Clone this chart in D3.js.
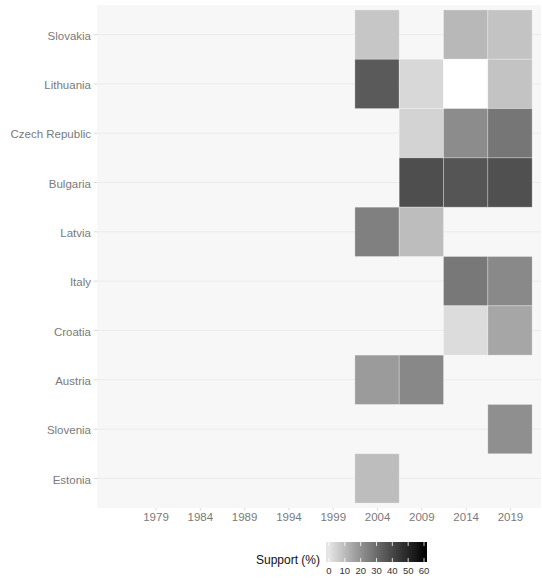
<!DOCTYPE html>
<html>
<head>
<meta charset="utf-8">
<script src="https://cdn.jsdelivr.net/npm/d3@7"></script>
<style>
  body { margin: 0; background: #fff; }
  svg { display: block; font-family: "Liberation Sans", Arial, sans-serif; }
</style>
</head>
<body>
<div id="chart"></div>
<script>
// Support (%) by country and election year, grey heatmap

// Countries top to bottom
var countries = ["Slovakia", "Lithuania", "Czech Republic", "Bulgaria", "Latvia",
                 "Italy", "Croatia", "Austria", "Slovenia", "Estonia"];

// Tick years on the x axis
var years = [1979, 1984, 1989, 1994, 1999, 2004, 2009, 2014, 2019];

// Values, one row per country (null = blank cell)
var slovakia      = [{year: 2004, value: 7.3}, {year: 2014, value: 10.7}, {year: 2019, value: 7.9}];
var lithuania     = [{year: 2004, value: 34.7}, {year: 2009, value: 3.1}, {year: 2014, value: null}, {year: 2019, value: 7.9}];
var czechRepublic = [{year: 2009, value: 4.3}, {year: 2014, value: 21.6}, {year: 2019, value: 27.3}];
var bulgaria      = [{year: 2009, value: 38.0}, {year: 2014, value: 36.1}, {year: 2019, value: 37.6}];
var latvia        = [{year: 2004, value: 24.7}, {year: 2009, value: 9.5}];
var italy         = [{year: 2014, value: 26.8}, {year: 2019, value: 22.4}];
var croatia       = [{year: 2014, value: 2.1}, {year: 2019, value: 15.1}];
var austria       = [{year: 2004, value: 17.9}, {year: 2009, value: 22.6}];
var slovenia      = [{year: 2019, value: 20.8}];
var estonia       = [{year: 2004, value: 9.5}];

var rows = [slovakia, lithuania, czechRepublic, bulgaria, latvia,
            italy, croatia, austria, slovenia, estonia];

var legendTicks = [0, 10, 20, 30, 40, 50, 60];

// build the cell table
var cells = [];
rows.forEach(function (r, i) {
    r.forEach(function (d) {
        cells.push({country: countries[i], year: d.year, value: d.value});
    });
});

var W = 542, H = 580;
var panel = {left: 97, right: 541, top: 5, bottom: 508};

var svg = d3.select("#chart").append("svg")
    .attr("width", W)
    .attr("height", H);

// Scales
var x = d3.scaleLinear()
    .domain([1972.4, 2022.5])
    .range([panel.left, panel.right]);

var y = d3.scaleBand()
    .domain(countries)
    .range([panel.top, panel.bottom])
    .paddingOuter(0.1)
    .paddingInner(0);

var color = d3.scaleLinear()
    .domain([0, 60])
    .range(["#e5e5e5", "#000000"])
    .interpolate(d3.interpolateLab);

// Panel background
svg.append("rect")
    .attr("x", panel.left)
    .attr("y", panel.top)
    .attr("width", panel.right - panel.left)
    .attr("height", panel.bottom - panel.top)
    .attr("fill", "#f7f7f7");

// Horizontal grid lines
svg.append("g").selectAll("line")
    .data(countries)
    .enter().append("line")
    .attr("x1", panel.left)
    .attr("x2", panel.right)
    .attr("y1", function (d) { return y(d) + y.bandwidth() / 2; })
    .attr("y2", function (d) { return y(d) + y.bandwidth() / 2; })
    .attr("stroke", "#ebebeb")
    .attr("stroke-width", 1);

// Tiles
svg.append("g").selectAll("rect")
    .data(cells)
    .enter().append("rect")
    .attr("x", function (d) { return x(d.year - 2.5); })
    .attr("y", function (d) { return y(d.country); })
    .attr("width", function (d) { return x(d.year + 2.5) - x(d.year - 2.5); })
    .attr("height", y.bandwidth())
    .attr("fill", function (d) { return d.value == null ? "#ffffff" : color(d.value); })
    .attr("stroke", "#ffffff")
    .attr("stroke-opacity", 0.35)
    .attr("stroke-width", 0.8);

// Y axis
var yAxis = svg.append("g")
    .attr("transform", "translate(" + panel.left + ",0)")
    .call(d3.axisLeft(y).tickSize(3).tickPadding(3));
yAxis.select(".domain").remove();
yAxis.selectAll(".tick line").attr("stroke", "#d9d9d9");
yAxis.selectAll(".tick text")
    .attr("dy", "0.45em")
    .attr("fill", "#7a7a7a")
    .attr("font-size", "11.5px")
    .attr("font-family", "Liberation Sans, Arial, sans-serif");

// X axis
var xAxis = svg.append("g")
    .attr("transform", "translate(0," + panel.bottom + ")")
    .call(d3.axisBottom(x).tickValues(years).tickFormat(d3.format("d")).tickSize(2.5).tickPadding(2));
xAxis.select(".domain").remove();
xAxis.selectAll(".tick line").attr("stroke", "#d9d9d9");
xAxis.selectAll(".tick text")
    .attr("fill", "#7a7a7a")
    .attr("font-size", "11.5px")
    .attr("font-family", "Liberation Sans, Arial, sans-serif");

// Legend
var lg = {x0: 326, x1: 427, y0: 542, h: 20};
var lx = d3.scaleLinear().domain([0, 60]).range([lg.x0 + 3, lg.x1 - 3]);

var defs = svg.append("defs");
var grad = defs.append("linearGradient")
    .attr("id", "legendGrad")
    .attr("gradientUnits", "userSpaceOnUse")
    .attr("x1", lx(0)).attr("x2", lx(60))
    .attr("y1", 0).attr("y2", 0);
d3.range(0, 61, 5).forEach(function (v) {
    grad.append("stop")
        .attr("offset", (v / 60 * 100) + "%")
        .attr("stop-color", color(v));
});

svg.append("rect")
    .attr("x", lg.x0)
    .attr("y", lg.y0)
    .attr("width", lg.x1 - lg.x0)
    .attr("height", lg.h)
    .attr("fill", "url(#legendGrad)");

var lt = svg.append("g");
legendTicks.forEach(function (v) {
    lt.append("line")
        .attr("x1", lx(v)).attr("x2", lx(v))
        .attr("y1", lg.y0).attr("y2", lg.y0 + 4)
        .attr("stroke", "#fff").attr("stroke-width", 0.8);
    lt.append("line")
        .attr("x1", lx(v)).attr("x2", lx(v))
        .attr("y1", lg.y0 + lg.h - 4).attr("y2", lg.y0 + lg.h)
        .attr("stroke", "#fff").attr("stroke-width", 0.8);
    lt.append("text")
        .attr("x", lx(v))
        .attr("y", 574)
        .attr("text-anchor", "middle")
        .attr("font-size", "9.5px")
        .attr("fill", "#333")
        .text(v);
});

svg.append("text")
    .attr("x", 320)
    .attr("y", 564)
    .attr("text-anchor", "end")
    .attr("font-size", "12px")
    .attr("fill", "#111")
    .text("Support (%)");
</script>
</body>
</html>
